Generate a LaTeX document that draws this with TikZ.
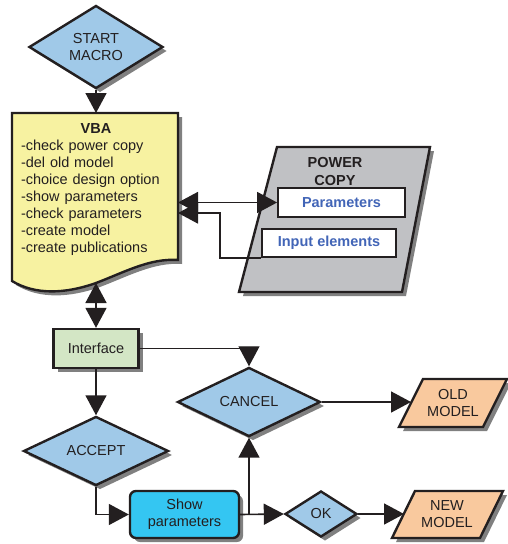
\documentclass[tikz,border=0pt]{standalone}
\usepackage{fontspec}
\setmainfont{Liberation Sans}
\usetikzlibrary{shapes.geometric,arrows.meta,shadows}

\definecolor{ink}{RGB}{35,31,32}
\definecolor{decblue}{RGB}{160,201,232}
\definecolor{vbayellow}{RGB}{247,242,161}
\definecolor{pcgray}{RGB}{192,193,196}
\definecolor{ifgreen}{RGB}{211,230,197}
\definecolor{showcyan}{RGB}{52,198,242}
\definecolor{peach}{RGB}{249,201,158}
\definecolor{pcblue}{RGB}{66,101,183}

\begin{document}
\begin{tikzpicture}[x=1pt,y=-1pt,
    font=\fontsize{14.5}{17}\selectfont,
    every node/.style={text=ink},
    boxshadow/.style={drop shadow={shadow xshift=4pt,shadow yshift=-4pt,fill=black!50,opacity=1}},
    outline/.style={draw=ink,line width=2.4pt,boxshadow},
    flowbox/.style={outline,align=center,inner sep=0pt},
    decision/.style={flowbox,diamond,fill=decblue},
    pcfield/.style={draw=ink,line width=1.8pt,fill=white,text=pcblue,font=\fontsize{14.5}{17}\selectfont\bfseries},
    arrowline/.style={line width=1.6pt,draw=ink},
    >={Triangle[length=20pt,width=21pt]}]

    \useasboundingbox (0,0) rectangle (507,544);

    % Start
    \node[decision,minimum width=134pt,minimum height=83pt] (start) at (96,47) {START\\MACRO};

    % VBA document
    \coordinate (vbaNW) at (12,113);
    \coordinate (vbaNE) at (178,113);
    \coordinate (vbaSE) at (178,260);
    \coordinate (vbaSW) at (12,281);
    \coordinate (vbaS) at (96,283);
    \path[outline,fill=vbayellow]
        (vbaNW) -- (vbaNE) -- (vbaSE)
        .. controls (150,258) and (125,272) .. (vbaS)
        .. controls (65,294) and (35,295) .. (vbaSW) -- cycle;
    \node[text width=150pt,align=left,inner sep=0pt] (vba) at (96,190)
        {\hfill\textbf{VBA}\hfill\null\\
         -check power copy\\
         -del old model\\
         -choice design option\\
         -show parameters\\
         -check parameters\\
         -create model\\
         -create publications};

    % Power copy
    \path[outline,fill=pcgray] (277,147) -- (430,147) -- (402,292) -- (239,292) -- cycle;
    \node[font=\fontsize{14.5}{18}\selectfont\bfseries,align=center] (pctitle) at (335,172) {POWER\\COPY};
    \node[pcfield,minimum width=127pt,minimum height=29pt] (params) at (341.5,202.5) {Parameters};
    \node[pcfield,minimum width=134pt,minimum height=28pt] (inputs) at (329,243) {Input elements};
    \coordinate (pcjoin) at (220,213);

    % Lower part
    \node[flowbox,fill=ifgreen,minimum width=85pt,minimum height=39pt] (iface) at (96,348.5) {Interface};
    \node[decision,minimum width=143pt,minimum height=59pt] (cancel) at (249,402) {CANCEL};
    \node[decision,minimum width=145pt,minimum height=59pt] (accept) at (96,451) {ACCEPT};
    \node[flowbox,fill=showcyan,rounded corners=6pt,minimum width=109pt,minimum height=47pt] (show) at (184.5,514.5) {Show\\parameters};
    \node[decision,minimum width=72pt,minimum height=46pt] (ok) at (321,514) {OK};

    % Old and new model
    \path[outline,fill=peach] (423,379) -- (507,379) -- (483,427) -- (399,427) -- cycle;
    \node[align=center] (old) at (453,403) {OLD\\MODEL};
    \coordinate (oldin) at (411,402);
    \path[outline,fill=peach] (415,491) -- (503,491) -- (480,538) -- (392,538) -- cycle;
    \node[align=center] (new) at (447,514.5) {NEW\\MODEL};
    \coordinate (newin) at (404,514);

    % Connectors
    \draw[arrowline,->] (start.south) -- (start.south |- vbaNW);
    \draw[arrowline,<->] (params.west -| vbaNE) -- (params.west);
    \draw[arrowline,<-] (vbaNE |- pcjoin) -- (pcjoin) |- (inputs.south west);
    \draw[arrowline,<->] (vbaS) -- (iface.north);
    \draw[line width=1.2pt,draw=ink,->] (iface.east) -| (cancel.north);
    \draw[arrowline,->] (iface.south) -- (accept.north);
    \draw[arrowline,->] (accept.south) |- (show.west);
    \draw[arrowline,->] (show.east) -- (ok.west);
    \draw[arrowline,->] (show.east -| cancel.south) -- (cancel.south);
    \draw[arrowline,->] (ok.east) -- (ok.east -| newin);
    \draw[arrowline,->] (cancel.east) -- (cancel.east -| oldin);

\end{tikzpicture}
\end{document}
